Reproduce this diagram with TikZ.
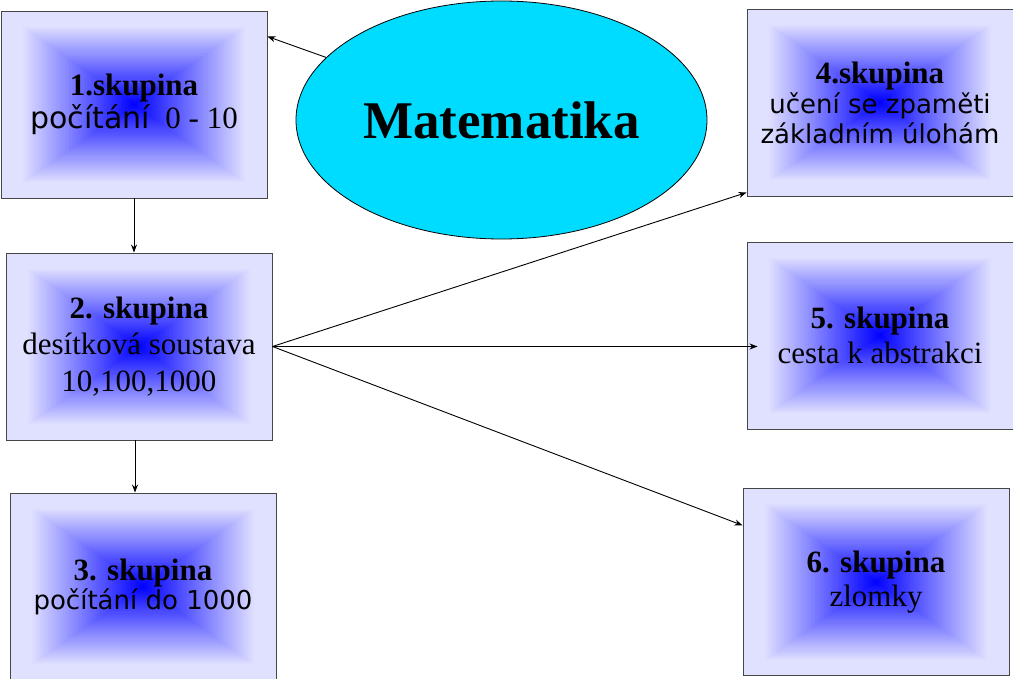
\documentclass[tikz,border=0pt]{standalone}
\usepackage{fontspec}
\setmainfont{Liberation Serif}
\newfontfamily\sansfam{DejaVu Sans}
\usetikzlibrary{positioning,arrows.meta,calc,shapes.geometric}
\definecolor{lavbg}{RGB}{224,224,255}
\definecolor{matcyan}{RGB}{0,220,255}
\definecolor{boxline}{RGB}{70,70,70}

\begin{document}
\begin{tikzpicture}[x=1pt,y=-1pt,>={Stealth[length=8pt,width=6pt]},on grid,
  grp/.style={draw=boxline,line width=0.9pt,minimum width=266pt,minimum height=187pt,inner sep=0pt,align=center,
    path picture={
      \foreach \k [evaluate=\k as \pc using {max(0,min(100,100*(1-\k/76)))}] in {90,...,1}
        \fill[blue!\pc!lavbg] ($(path picture bounding box.center)!\k/90!(path picture bounding box.north east)$)
          rectangle ($(path picture bounding box.center)!\k/90!(path picture bounding box.south west)$);}},
  topic/.style={ellipse,draw,line width=0.8pt,fill=matcyan,minimum width=411pt,minimum height=238pt,inner sep=0pt,
    font=\fontsize{53}{60}\selectfont\bfseries}]
  \useasboundingbox (0,0) rectangle (1013,679);
  \node[grp,font=\fontsize{31}{33}\selectfont] (b1) at (134,104.5)
    {{\bfseries 1.skupina}\\{\sansfam\fontsize{30}{33}\selectfont počítání}\ \ 0 - 10};
  \node[grp,font=\fontsize{31}{36.5}\selectfont] (b2) [below=242pt of b1,xshift=5pt]
    {{\bfseries 2. skupina}\\desítková soustava\\10,100,1000};
  \node[grp,font=\fontsize{31}{29}\selectfont] (b3) [below=240pt of b2,xshift=4pt]
    {{\bfseries 3. skupina}\\{\sansfam\fontsize{26}{29}\selectfont počítání do 1000}};
  \node[grp,font=\fontsize{31}{30}\selectfont] (b4) at (880,102.5)
    {{\bfseries 4.skupina}\\{\sansfam\fontsize{26}{30}\selectfont učení se zpaměti}\\{\sansfam\fontsize{26}{30}\selectfont základním úlohám}};
  \node[grp,font=\fontsize{31}{35}\selectfont] (b5) [below=233pt of b4]
    {{\bfseries 5. skupina}\\cesta k abstrakci};
  \node[grp,font=\fontsize{31}{34}\selectfont] (b6) [below=246.5pt of b5,xshift=-4pt]
    {{\bfseries 6. skupina}\\zlomky};
  \node[topic] (mat) at (501.5,120) {Matematika};
  \path[->,line width=0.9pt]
    (mat) edge (b1.27)
    (b1.south) edge (b1.south |- b2.north)
    ([xshift=-4pt]b2.south) edge ([xshift=-4pt]b2.south |- b3.north)
    (b2.east) edge (b4.214)
    (b2.east) edge[shorten >=-11pt] (b2.east -| b5.west)
    (b2.east) edge (b6.157);
\end{tikzpicture}
\end{document}
